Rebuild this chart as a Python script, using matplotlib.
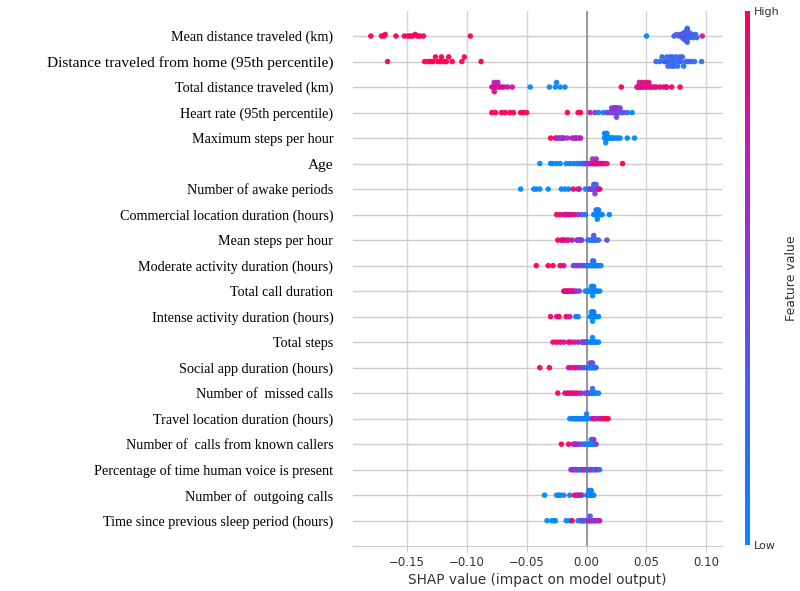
import numpy as np
import matplotlib.pyplot as plt
from matplotlib.colors import LinearSegmentedColormap

# feature names, top to bottom
features = ['Mean distance traveled (km)',
            'Distance traveled from home (95th percentile)',
            'Total distance traveled (km)',
            'Heart rate (95th percentile)',
            'Maximum steps per hour',
            'Age',
            'Number of awake periods',
            'Commercial location duration (hours)',
            'Mean steps per hour',
            'Moderate activity duration (hours)',
            'Total call duration',
            'Intense activity duration (hours)',
            'Total steps',
            'Social app duration (hours)',
            'Number of  missed calls',
            'Travel location duration (hours)',
            'Number of  calls from known callers',
            'Percentage of time human voice is present',
            'Number of  outgoing calls',
            'Time since previous sleep period (hours)']
big_labels = ['Distance traveled from home (95th percentile)', 'Age']

#shap values (x) and feature values (colour, 0=low 1=high) per feature
shap_mean_dist = [-0.180, -0.171, -0.169, -0.168, -0.159, -0.152, -0.149, -0.147, -0.145, -0.143, -0.141, -0.139, -0.136, -0.097,
                  0.050, 0.073, 0.075, 0.077, 0.078, 0.079, 0.080, 0.080, 0.081, 0.081, 0.082, 0.082, 0.082, 0.083, 0.083, 0.083,
                  0.083, 0.084, 0.084, 0.084, 0.085, 0.085, 0.086, 0.086, 0.087, 0.088, 0.089, 0.090, 0.091, 0.092, 0.0965]
fval_mean_dist = [1.0, 1.0, 0.95, 1.0, 1.0, 0.95, 1.0, 1.0, 0.95, 1.0, 1.0, 0.95, 1.0, 1.0,
                  0.0, 0.2, 0.3, 0.25, 0.35, 0.2, 0.3, 0.4, 0.25, 0.3, 0.2, 0.35, 0.3, 0.25, 0.4, 0.3,
                  0.2, 0.35, 0.3, 0.25, 0.3, 0.4, 0.2, 0.3, 0.25, 0.3, 0.2, 0.3, 0.25, 0.2, 0.8]

shap_home = [-0.166, -0.135, -0.132, -0.130, -0.128, -0.126, -0.124, -0.122, -0.121, -0.119, -0.117, -0.115, -0.112, -0.104, -0.102, -0.088,
             0.058, 0.061, 0.063, 0.065, 0.066, 0.067, 0.068, 0.069, 0.070, 0.071, 0.072, 0.072, 0.073, 0.074, 0.075, 0.076,
             0.077, 0.078, 0.079, 0.080, 0.081, 0.083, 0.085, 0.087, 0.090, 0.096]
fval_home = [1.0, 1.0, 0.95, 1.0, 1.0, 0.95, 1.0, 1.0, 1.0, 0.95, 1.0, 1.0, 0.95, 1.0, 1.0, 1.0,
             0.2, 0.15, 0.25, 0.2, 0.3, 0.15, 0.25, 0.2, 0.3, 0.2, 0.15, 0.25, 0.3, 0.2, 0.25, 0.15,
             0.2, 0.3, 0.25, 0.2, 0.15, 0.25, 0.2, 0.3, 0.2, 0.15]

shap_total_dist = [-0.079, -0.078, -0.077, -0.077, -0.076, -0.075, -0.074, -0.073, -0.071, -0.069, -0.066, -0.062,
                   -0.047, -0.031, -0.026, -0.025, -0.022, -0.018,
                   0.029, 0.042, 0.043, 0.044, 0.045, 0.046, 0.047, 0.048, 0.049, 0.050, 0.051, 0.052, 0.053, 0.054,
                   0.056, 0.058, 0.061, 0.064, 0.066, 0.067, 0.071, 0.078]
fval_total_dist = [0.8, 0.85, 0.75, 0.9, 0.8, 0.85, 0.75, 0.8, 0.9, 0.85, 0.8, 0.85,
                   0.0, 0.05, 0.0, 0.05, 0.0, 0.05,
                   1.0, 0.85, 0.9, 0.8, 0.9, 0.85, 0.95, 0.8, 0.9, 0.85, 0.9, 0.85, 0.95, 0.9,
                   0.85, 0.9, 0.95, 0.9, 0.85, 0.9, 0.95, 1.0]

shap_heart = [-0.079, -0.076, -0.071, -0.068, -0.064, -0.061, -0.055, -0.053, -0.050, -0.016, -0.007, -0.005,
              0.003, 0.007, 0.010, 0.014, 0.017, 0.019, 0.020, 0.021, 0.022, 0.023, 0.023, 0.024, 0.024, 0.025,
              0.025, 0.025, 0.026, 0.026, 0.027, 0.028, 0.029, 0.031, 0.034, 0.038]
fval_heart = [1.0, 1.0, 1.0, 1.0, 1.0, 1.0, 1.0, 1.0, 1.0, 1.0, 1.0, 1.0,
              0.75, 0.5, 0.1, 0.2, 0.3, 0.5, 0.4, 0.6, 0.45, 0.7, 0.35, 0.55, 0.65, 0.4,
              0.6, 0.5, 0.7, 0.45, 0.35, 0.55, 0.3, 0.4, 0.2, 0.05]

shap_max_steps = [-0.030, -0.026, -0.025, -0.023, -0.022, -0.021, -0.020, -0.019, -0.016, -0.012, -0.010, -0.009, -0.008, -0.006, -0.005,
                  0.015, 0.015, 0.016, 0.016, 0.016, 0.017, 0.017, 0.018, 0.019, 0.020, 0.021, 0.022, 0.024, 0.026, 0.028, 0.034, 0.040]
fval_max_steps = [1.0, 1.0, 0.8, 0.6, 0.5, 0.55, 0.45, 0.7, 0.6, 0.9, 0.6, 0.55, 0.7, 0.5, 0.8,
                  0.0, 0.05, 0.0, 0.1, 0.0, 0.05, 0.0, 0.1, 0.0, 0.05, 0.0, 0.0, 0.05, 0.0, 0.0, 0.05, 0.0]

shap_age = [-0.039, -0.030, -0.028, -0.025, -0.022, -0.017, -0.014, -0.011, -0.008, -0.006, -0.004, -0.003, -0.002, -0.001,
            0.000, 0.002, 0.003, 0.004, 0.005, 0.005, 0.006, 0.007, 0.008, 0.008, 0.009, 0.010, 0.011, 0.012, 0.013,
            0.015, 0.017, 0.030]
fval_age = [0.0, 0.0, 0.05, 0.0, 0.05, 0.0, 0.1, 0.05, 0.1, 0.1, 0.1, 0.3, 0.2, 0.15,
            0.4, 0.55, 0.7, 0.5, 0.9, 0.6, 1.0, 0.8, 0.9, 0.7, 1.0, 0.85, 0.95, 0.6, 1.0,
            0.9, 0.8, 1.0]

shap_awake = [-0.055, -0.044, -0.042, -0.039, -0.032, -0.021, -0.018, -0.015, -0.011, -0.007, -0.006, -0.001,
              0.002, 0.003, 0.004, 0.005, 0.006, 0.006, 0.007, 0.007, 0.007, 0.008, 0.008, 0.009, 0.010, 0.011]
fval_awake = [0.0, 0.0, 0.05, 0.0, 0.0, 0.05, 0.0, 0.0, 1.0, 0.9, 0.7, 0.1,
              0.4, 0.3, 0.5, 0.6, 0.4, 0.2, 0.5, 0.3, 0.6, 0.4, 0.2, 0.5, 0.7, 0.9]

shap_commercial = [-0.025, -0.022, -0.019, -0.018, -0.017, -0.016, -0.015, -0.014, -0.012, -0.010, -0.007, -0.004, -0.001,
                   0.006, 0.007, 0.008, 0.008, 0.009, 0.009, 0.009, 0.010, 0.010, 0.011, 0.012, 0.013, 0.019]
fval_commercial = [1.0, 0.9, 0.8, 1.0, 0.6, 0.9, 0.7, 0.9, 0.8, 0.9, 0.6, 0.5, 0.1,
                   0.0, 0.05, 0.0, 0.1, 0.0, 0.05, 0.0, 0.0, 0.1, 0.0, 0.05, 0.0, 0.0]

shap_mean_steps = [-0.024, -0.021, -0.020, -0.019, -0.017, -0.015, -0.012, -0.008, -0.007, -0.006, -0.005, -0.004,
                   0.001, 0.003, 0.004, 0.005, 0.006, 0.006, 0.007, 0.008, 0.010, 0.017]
fval_mean_steps = [1.0, 0.9, 1.0, 0.8, 0.9, 0.85, 0.8, 0.5, 0.6, 0.4, 0.5, 0.6,
                   0.1, 0.3, 0.05, 0.2, 0.1, 0.4, 0.05, 0.3, 0.2, 0.45]

shap_moderate = [-0.042, -0.032, -0.028, -0.022, -0.019, -0.011, -0.009, -0.008, -0.006, -0.004, -0.002, 0.000,
                 0.001, 0.003, 0.004, 0.005, 0.005, 0.006, 0.006, 0.007, 0.008, 0.009, 0.010, 0.012]
fval_moderate = [1.0, 1.0, 1.0, 1.0, 0.8, 0.5, 0.6, 0.45, 0.55, 0.4, 0.3, 0.35,
                 0.2, 0.05, 0.1, 0.0, 0.05, 0.0, 0.2, 0.05, 0.0, 0.1, 0.05, 0.0]

shap_calls = [-0.019, -0.018, -0.017, -0.016, -0.015, -0.014, -0.013, -0.012, -0.011, -0.010, -0.008, -0.006,
              -0.001, 0.001, 0.002, 0.003, 0.004, 0.004, 0.005, 0.005, 0.005, 0.006, 0.006, 0.007, 0.008, 0.009, 0.011]
fval_calls = [0.9, 1.0, 0.8, 1.0, 0.9, 1.0, 0.85, 0.7, 0.9, 0.8, 0.6, 0.5,
              0.1, 0.05, 0.0, 0.0, 0.05, 0.0, 0.0, 0.05, 0.0, 0.0, 0.1, 0.0, 0.05, 0.0, 0.0]

shap_intense = [-0.030, -0.025, -0.023, -0.017, -0.014, -0.009, -0.007,
                0.003, 0.004, 0.004, 0.005, 0.005, 0.005, 0.006, 0.006, 0.007, 0.008, 0.010]
fval_intense = [1.0, 0.85, 1.0, 1.0, 0.8, 0.1, 0.05,
                0.0, 0.05, 0.0, 0.0, 0.05, 0.0, 0.0, 0.1, 0.0, 0.05, 0.0]

shap_steps = [-0.028, -0.025, -0.022, -0.019, -0.015, -0.013, -0.010, -0.007, -0.004, -0.003, -0.002, -0.001,
              0.000, 0.001, 0.003, 0.004, 0.005, 0.005, 0.006, 0.007, 0.008, 0.010]
fval_steps = [0.9, 1.0, 0.95, 0.75, 1.0, 0.9, 0.85, 0.7, 0.5, 0.45, 0.6, 0.4,
              0.5, 0.3, 0.1, 0.0, 0.05, 0.0, 0.1, 0.0, 0.05, 0.0]

shap_social = [-0.039, -0.031, -0.015, -0.013, -0.010, -0.008, -0.006, -0.004, -0.002, 0.000, 0.001,
               0.002, 0.003, 0.003, 0.004, 0.004, 0.005, 0.005, 0.006, 0.007, 0.008]
fval_social = [1.0, 1.0, 0.75, 0.8, 1.0, 0.9, 0.5, 0.6, 0.45, 0.4, 0.1,
               0.3, 0.05, 0.5, 0.0, 0.2, 0.1, 0.4, 0.0, 0.1, 0.3]

shap_missed = [-0.024, -0.018, -0.016, -0.015, -0.013, -0.012, -0.010, -0.008, -0.006, -0.004, -0.001,
               0.001, 0.002, 0.003, 0.004, 0.005, 0.005, 0.006, 0.007, 0.008, 0.010]
fval_missed = [1.0, 0.9, 1.0, 0.8, 1.0, 0.9, 0.85, 1.0, 0.7, 0.6, 0.5,
               0.45, 0.55, 0.4, 0.1, 0.0, 0.3, 0.05, 0.1, 0.0, 0.05]

shap_travel = [-0.014, -0.012, -0.011, -0.010, -0.009, -0.008, -0.007, -0.006, -0.005, -0.004, -0.003, -0.002, -0.001,
               0.000, 0.000, 0.001, 0.004, 0.006, 0.007, 0.008, 0.010, 0.012, 0.014, 0.016, 0.018]
fval_travel = [0.05, 0.0, 0.1, 0.0, 0.05, 0.0, 0.1, 0.0, 0.05, 0.0, 0.1, 0.0, 0.05,
               0.0, 0.1, 0.0, 0.5, 1.0, 0.9, 0.6, 0.7, 0.85, 0.9, 1.0, 1.0]

shap_known = [-0.021, -0.015, -0.011, -0.010, -0.009, -0.008, -0.006, -0.004, -0.002, -0.001,
              0.001, 0.002, 0.003, 0.004, 0.004, 0.005, 0.005, 0.006, 0.006, 0.007, 0.008]
fval_known = [1.0, 1.0, 0.75, 0.6, 0.8, 0.55, 0.7, 0.3, 0.4, 0.1,
              0.05, 0.2, 0.0, 0.05, 0.4, 0.0, 0.1, 0.0, 0.6, 0.05, 0.5]

shap_voice = [-0.013, -0.012, -0.011, -0.010, -0.009, -0.008, -0.007, -0.006, -0.005, -0.004, -0.003, -0.002,
              -0.001, 0.000, 0.001, 0.002, 0.003, 0.004, 0.005, 0.006, 0.007, 0.008, 0.009, 0.011]
fval_voice = [0.5, 0.6, 0.45, 0.7, 0.55, 0.4, 0.6, 0.5, 0.1, 0.45, 0.65, 0.9,
              0.3, 0.5, 0.05, 0.4, 0.1, 0.2, 1.0, 0.3, 0.0, 0.1, 0.85, 0.05]

shap_outgoing = [-0.035, -0.025, -0.023, -0.022, -0.019, -0.014, -0.010, -0.008, -0.007, -0.005, -0.004,
                 0.000, 0.001, 0.002, 0.002, 0.003, 0.003, 0.004, 0.004, 0.005, 0.006]
fval_outgoing = [0.0, 0.0, 0.05, 0.0, 0.1, 0.0, 1.0, 0.9, 0.75, 1.0, 0.6,
                 0.0, 0.05, 0.0, 0.1, 0.0, 0.2, 0.05, 0.0, 0.1, 0.0]

shap_sleep = [-0.033, -0.029, -0.027, -0.026, -0.017, -0.014, -0.012, -0.007, -0.005, -0.004, -0.003, -0.002,
              -0.001, 0.000, 0.001, 0.002, 0.003, 0.003, 0.004, 0.005, 0.006, 0.007, 0.008, 0.010, 0.011]
fval_sleep = [0.0, 0.05, 0.0, 0.0, 0.0, 0.05, 1.0, 0.1, 0.3, 0.2, 0.5, 0.4,
              0.6, 0.0, 0.45, 0.55, 1.0, 0.3, 0.7, 0.5, 0.6, 0.4, 0.8, 0.5, 0.7]

shap_rows = [shap_mean_dist, shap_home, shap_total_dist, shap_heart, shap_max_steps, shap_age, shap_awake,
             shap_commercial, shap_mean_steps, shap_moderate, shap_calls, shap_intense, shap_steps, shap_social,
             shap_missed, shap_travel, shap_known, shap_voice, shap_outgoing, shap_sleep]
fval_rows = [fval_mean_dist, fval_home, fval_total_dist, fval_heart, fval_max_steps, fval_age, fval_awake,
             fval_commercial, fval_mean_steps, fval_moderate, fval_calls, fval_intense, fval_steps, fval_social,
             fval_missed, fval_travel, fval_known, fval_voice, fval_outgoing, fval_sleep]

#%%
red_blue = LinearSegmentedColormap.from_list('red_blue', ['#008bfb', '#3d66ee', '#7c40df', '#c11ab6', '#ff0052'])

def swarm_offsets(vals, row_height=0.4):
    # same stacking idea as shap's beeswarm
    vals = np.asarray(vals)
    nbins = 100
    quant = np.round(nbins * (vals - vals.min()) / (vals.max() - vals.min() + 1e-8))
    inds = np.argsort(quant, kind='stable')
    layer = 0
    last_bin = -1
    ys = np.zeros(len(vals))
    for ind in inds:
        if quant[ind] != last_bin:
            layer = 0
        ys[ind] = np.ceil(layer / 2) * ((layer % 2) * 2 - 1)
        layer += 1
        last_bin = quant[ind]
    ys *= 0.9 * (row_height / np.max(ys + 1))
    return ys

fig = plt.figure(figsize=(8, 5.91), dpi=100)
ax = fig.add_axes([0.441, 0.0758, 0.4615, 0.9064])
n = len(features)

for i in range(n):
    ypos = n - 1 - i
    ax.axhline(ypos, color='#cccccc', lw=1, zorder=1)
    x = np.array(shap_rows[i])
    c = np.array(fval_rows[i])
    y = ypos + swarm_offsets(x)
    ax.scatter(x, y, c=c, cmap=red_blue, vmin=0, vmax=1, s=16, linewidth=0, zorder=3, alpha=0.95)

ax.axvline(0, color='#999999', lw=1.4, zorder=2)
xticks = [-0.15, -0.10, -0.05, 0.00, 0.05, 0.10]
ax.set_xticks(xticks)
ax.set_xticklabels([('%.2f' % t).replace('-', '\u2212') for t in xticks], fontsize=8.5, color='#333333')
ax.grid(axis='x', color='#d5d5d5', lw=1, zorder=0)
ax.set_axisbelow(True)
ax.set_xlim(-0.195, 0.113)
ax.set_ylim(-1, n)
ax.set_yticks(range(n))
ax.set_yticklabels(features[::-1], family='Liberation Serif', fontsize=10.2, color='black')
for lab in ax.get_yticklabels():
    if lab.get_text() in big_labels:
        lab.set_fontsize(11.1)
ax.tick_params(axis='y', length=0, pad=14)
ax.tick_params(axis='x', length=4, color='#cccccc', pad=3)
for s in ['top', 'right', 'left']:
    ax.spines[s].set_visible(False)
ax.spines['bottom'].set_color('#cccccc')
ax.set_xlabel('SHAP value (impact on model output)', fontsize=9.8, color='#333333', labelpad=3)

cax = fig.add_axes([0.931, 0.0778, 0.00625, 0.9036])
sm = plt.cm.ScalarMappable(cmap=red_blue, norm=plt.Normalize(0, 1))
cb = fig.colorbar(sm, cax=cax, ticks=[0, 1])
cb.set_ticklabels(['Low', 'High'])
cb.ax.tick_params(labelsize=8, length=0, colors='#333333', pad=3)
cb.outline.set_visible(False)
cb.set_label('Feature value', size=9, color='#333333', labelpad=4)

fig.savefig('out.png', dpi=100)
